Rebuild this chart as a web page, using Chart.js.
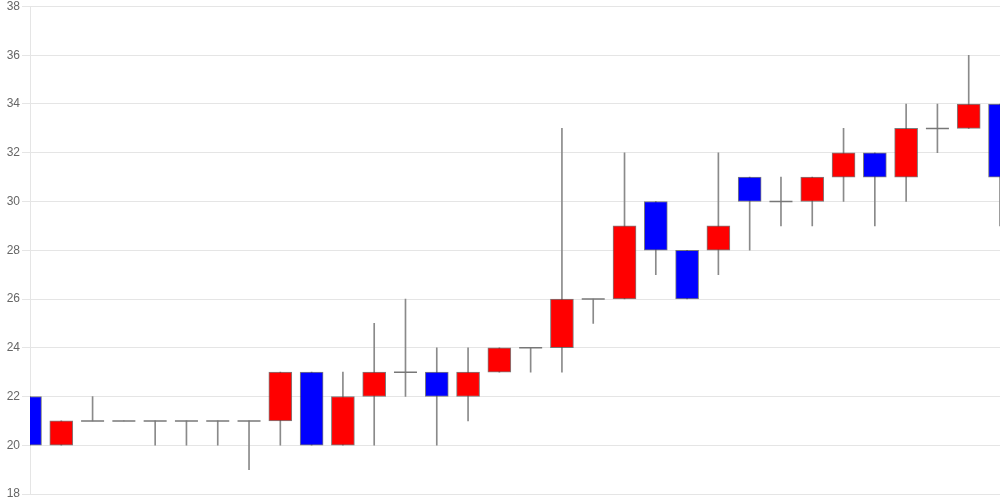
<!DOCTYPE html>
<html>
<head>
<meta charset="utf-8">
<script src="https://cdn.jsdelivr.net/npm/chart.js@4/dist/chart.umd.min.js"></script>
<style>
  html, body { margin: 0; padding: 0; background: #fff; }
  #wrap { width: 1000px; height: 500px; }
</style>
</head>
<body>
<div id="wrap"><canvas id="c" width="1000" height="500"></canvas></div>
<script>
const labels = ["1","2","3","4","5","6","7","8","9","10","11","12","13","14","15","16",
                "17","18","19","20","21","22","23","24","25","26","27","28","29","30","31","32"];
const openV  = [22,20,21,21,21,21,21,21,21,23,20,22,23,23,22,23,24,24,26,26,30,28,28,31,30,30,31,32,31,33,33,34];
const closeV = [20,21,21,21,21,21,21,21,23,20,22,23,23,22,23,24,24,26,26,29,28,26,29,30,30,31,32,31,33,33,34,31];
const highV  = [22,21,22,21,21,21,21,21,23,23,23,25,26,24,24,24,24,33,26,32,30,28,32,31,31,31,33,32,34,34,36,34];
const lowV   = [20,20,21,21,20,20,20,19,20,20,20,20,22,20,21,23,23,23,25,26,27,26,27,28,29,29,30,29,30,32,33,29];
const yTicks = [18,20,22,24,26,28,30,32,34,36,38];

const UP = '#ff0000', DOWN = '#0000ff';

const wicks = lowV.map((l, i) => [l, highV[i]]);
const bodies = openV.map((o, i) => o !== closeV[i] ? [o, closeV[i]] : null);
const dojis = openV.map((o, i) => o === closeV[i] ? o : null);
const bodyColors = openV.map((o, i) => closeV[i] >= o ? UP : DOWN);

new Chart(document.getElementById('c'), {
  data: {
    labels: labels,
    datasets: [
      {
        type: 'bar', data: wicks, grouped: false, order: 3,
        backgroundColor: '#8a8a8a', borderWidth: 0, barThickness: 1
      },
      {
        type: 'bar', data: bodies, grouped: false, order: 2,
        backgroundColor: bodyColors, borderColor: 'rgba(70,70,70,0.7)',
        borderWidth: 1, borderSkipped: false, barThickness: 23
      },
      {
        type: 'line', data: dojis, order: 1, showLine: false,
        pointStyle: 'line', pointRadius: 11.5, pointHoverRadius: 11.5,
        borderColor: '#777', borderWidth: 1.5, backgroundColor: '#777'
      }
    ]
  },
  options: {
    responsive: false,
    animation: false,
    events: [],
    layout: { padding: 0, autoPadding: false },
    plugins: { legend: { display: false }, tooltip: { enabled: false } },
    scales: {
      x: { type: 'category', display: false, offset: false },
      y: {
        min: 18, max: 38,
        afterBuildTicks: (s) => { s.ticks = yTicks.map(v => ({ value: v })); },
        afterFit: (s) => { s.width = 30; s.paddingTop = 6.5; s.paddingBottom = 6; },
        ticks: { color: '#666', font: { size: 12 }, padding: 2 },
        grid: { color: 'rgba(0,0,0,0.1)', tickLength: 8 },
        border: { color: 'rgba(0,0,0,0.1)' }
      }
    }
  }
});
</script>
</body>
</html>
